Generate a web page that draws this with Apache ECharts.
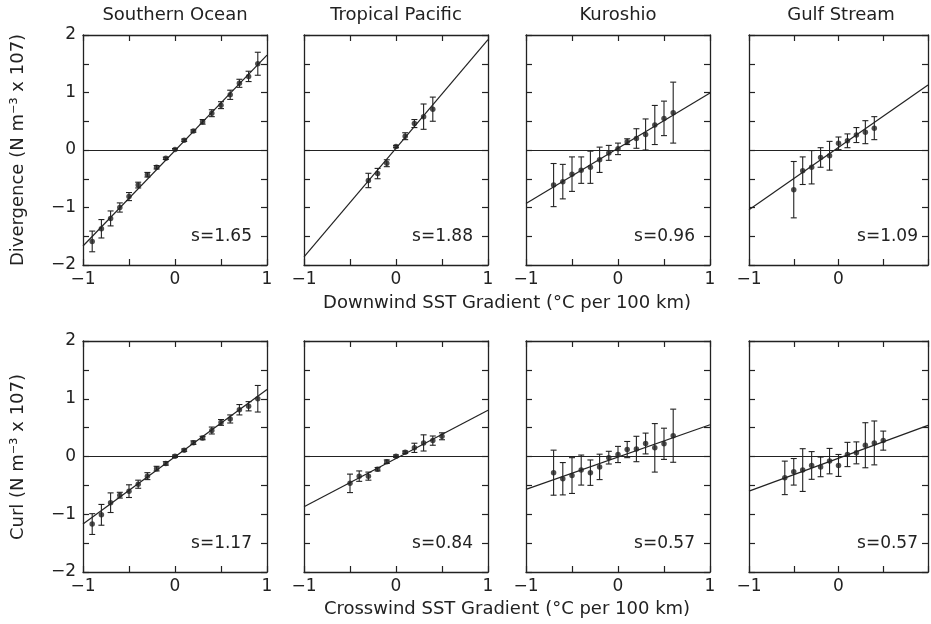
<!DOCTYPE html>
<html><head><meta charset="utf-8">
<script src="https://cdn.jsdelivr.net/npm/echarts@6/dist/echarts.min.js"></script>
<style>html,body{margin:0;padding:0;background:#fff;overflow:hidden}#c{width:931px;height:624px}</style>
</head><body><div id="c"></div>
<script>
// ---- labels ----
const regions = ['Southern Ocean', 'Tropical Pacific', 'Kuroshio', 'Gulf Stream'];
const divSlopes = ['s=1.65', 's=1.88', 's=0.96', 's=1.09'];
const curlSlopes = ['s=1.17', 's=0.84', 's=0.57', 's=0.57'];
const xTitleTop = 'Downwind SST Gradient (°C per 100 km)';
const xTitleBottom = 'Crosswind SST Gradient (°C per 100 km)';
const yTitleTop = 'Divergence (N m⁻³ x 107)';
const yTitleBottom = 'Curl (N m⁻³ x 107)';
const xTicks = [-1, 0, 1];
const yTicks = [-2, -1, 0, 1, 2];

// ---- Divergence vs downwind gradient ----
const soDivX = [-0.9,-0.8,-0.7,-0.6,-0.5,-0.4,-0.3,-0.2,-0.1,0.0,0.1,0.2,0.3,0.4,0.5,0.6,0.7,0.8,0.9];
const soDivY = [-1.59,-1.37,-1.19,-1.00,-0.81,-0.61,-0.43,-0.30,-0.145,0.01,0.17,0.33,0.49,0.64,0.78,0.96,1.16,1.28,1.50];
const soDivE = [0.18,0.16,0.13,0.08,0.07,0.05,0.04,0.03,0.02,0.015,0.02,0.02,0.04,0.06,0.06,0.08,0.07,0.09,0.2];
const tpDivX = [-0.3,-0.2,-0.1,0.0,0.1,0.2,0.3,0.4];
const tpDivY = [-0.53,-0.41,-0.23,0.06,0.24,0.46,0.58,0.71];
const tpDivE = [0.125,0.09,0.06,0.02,0.06,0.07,0.22,0.21];
const kuDivX = [-0.7,-0.6,-0.5,-0.4,-0.3,-0.2,-0.1,0.0,0.1,0.2,0.3,0.4,0.5,0.6];
const kuDivY = [-0.61,-0.55,-0.42,-0.35,-0.30,-0.17,-0.05,0.02,0.145,0.20,0.27,0.435,0.55,0.65];
const kuDivE = [0.375,0.30,0.30,0.23,0.28,0.22,0.13,0.10,0.05,0.17,0.27,0.34,0.30,0.53];
const gsDivX = [-0.5,-0.4,-0.3,-0.2,-0.1,0.0,0.1,0.2,0.3,0.4];
const gsDivY = [-0.69,-0.36,-0.30,-0.13,-0.10,0.116,0.16,0.26,0.31,0.38];
const gsDivE = [0.49,0.24,0.29,0.17,0.25,0.11,0.12,0.13,0.20,0.20];
// fitted line value at x=-1 and x=1
const divFitLeft = [-1.67, -1.86, -0.93, -1.04];
const divFitRight = [1.65, 1.92, 0.99, 1.13];

// ---- Curl vs crosswind gradient ----
const soCurlX = [-0.9,-0.8,-0.7,-0.6,-0.5,-0.4,-0.3,-0.2,-0.1,0.0,0.1,0.2,0.3,0.4,0.5,0.6,0.7,0.8,0.9];
const soCurlY = [-1.17,-1.01,-0.80,-0.67,-0.60,-0.48,-0.34,-0.21,-0.12,0.005,0.11,0.24,0.32,0.45,0.59,0.65,0.81,0.87,1.00];
const soCurlE = [0.18,0.18,0.17,0.05,0.11,0.07,0.06,0.04,0.03,0.02,0.02,0.03,0.03,0.06,0.05,0.07,0.09,0.08,0.23];
const tpCurlX = [-0.5,-0.4,-0.3,-0.2,-0.1,0.0,0.1,0.2,0.3,0.4,0.5];
const tpCurlY = [-0.465,-0.34,-0.34,-0.22,-0.09,0.006,0.075,0.15,0.235,0.275,0.35];
const tpCurlE = [0.16,0.09,0.07,0.03,0.03,0.02,0.02,0.08,0.14,0.08,0.06];
const kuCurlX = [-0.7,-0.6,-0.5,-0.4,-0.3,-0.2,-0.1,0.0,0.1,0.2,0.3,0.4,0.5,0.6];
const kuCurlY = [-0.28,-0.385,-0.33,-0.235,-0.28,-0.18,-0.02,0.035,0.12,0.13,0.225,0.15,0.22,0.36];
const kuCurlE = [0.39,0.28,0.31,0.26,0.22,0.22,0.11,0.14,0.14,0.22,0.18,0.42,0.27,0.46];
const gsCurlX = [-0.6,-0.5,-0.4,-0.3,-0.2,-0.1,0.0,0.1,0.2,0.3,0.4,0.5];
const gsCurlY = [-0.37,-0.265,-0.235,-0.155,-0.18,-0.08,-0.155,0.035,0.063,0.195,0.235,0.275];
const gsCurlE = [0.29,0.23,0.37,0.24,0.17,0.22,0.19,0.21,0.19,0.39,0.38,0.165];
const curlFitLeft = [-1.17, -0.87, -0.57, -0.60];
const curlFitRight = [1.16, 0.80, 0.55, 0.54];

// ---- build ----
const FONT = 'DejaVu Sans';
const INK = '#222';
const colLeft = [83, 304, 526, 749];
const colWidth = [184, 184, 184, 184];
const rowTop = [35, 341];
const rowHeight = [230, 231];

const panels = [
  [soDivX, soDivY, soDivE], [tpDivX, tpDivY, tpDivE], [kuDivX, kuDivY, kuDivE], [gsDivX, gsDivY, gsDivE],
  [soCurlX, soCurlY, soCurlE], [tpCurlX, tpCurlY, tpCurlE], [kuCurlX, kuCurlY, kuCurlE], [gsCurlX, gsCurlY, gsCurlE]
];
const fitLeft = divFitLeft.concat(curlFitLeft);
const fitRight = divFitRight.concat(curlFitRight);
const slopes = divSlopes.concat(curlSlopes);

function fmt(v) { return String(v).replace('-', '\u2212'); }

function renderErr(params, api) {
  const x = api.value(0), y = api.value(1), e = api.value(2);
  const t = api.coord([x, y + e]), b = api.coord([x, y - e]);
  const w = 3;
  const style = { stroke: INK, lineWidth: 1.1 };
  return { type: 'group', children: [
    { type: 'line', shape: { x1: t[0], y1: t[1], x2: b[0], y2: b[1] }, style },
    { type: 'line', shape: { x1: t[0] - w, y1: t[1], x2: t[0] + w, y2: t[1] }, style },
    { type: 'line', shape: { x1: b[0] - w, y1: b[1], x2: b[0] + w, y2: b[1] }, style }
  ]};
}

const grid = [], xAxis = [], yAxis = [], series = [], graphic = [];
const axLine = { show: true, onZero: false, lineStyle: { color: INK, width: 1.3 } };
const axTick = { show: true, inside: true, length: 6, lineStyle: { color: INK, width: 1.2 } };

for (let p = 0; p < 8; p++) {
  const r = Math.floor(p / 4), c = p % 4;
  grid.push({ left: colLeft[c], top: rowTop[r], width: colWidth[c], height: rowHeight[r], containLabel: false });
  const xBase = { type: 'value', gridIndex: p, min: -1, max: 1, interval: 0.5, splitLine: { show: false }, axisLine: axLine, axisTick: axTick };
  const shownX = c === 3 ? [-1, 0] : xTicks; // the last panel's right edge runs off the picture
  xAxis.push(Object.assign({}, xBase, { position: 'bottom', axisLabel: {
    show: true, margin: 6, color: INK, fontFamily: FONT, fontSize: 17, showMinLabel: true, showMaxLabel: true,
    formatter: v => shownX.indexOf(v) >= 0 ? fmt(v) : '' } }));
  xAxis.push(Object.assign({}, xBase, { position: 'top', axisLabel: { show: false } }));
  const yBase = { type: 'value', gridIndex: p, min: -2, max: 2, interval: 0.5, splitLine: { show: false }, axisLine: axLine, axisTick: axTick };
  yAxis.push(Object.assign({}, yBase, { position: 'left', axisLabel: {
    show: c === 0, margin: 7, color: INK, fontFamily: FONT, fontSize: 17, showMinLabel: true, showMaxLabel: true,
    formatter: v => yTicks.indexOf(v) >= 0 ? fmt(v) : '' } }));
  yAxis.push(Object.assign({}, yBase, { position: 'right', axisLabel: { show: false } }));

  const [xs, ys, es] = panels[p];
  const triples = xs.map((x, i) => [x, ys[i], es[i]]);
  series.push({ type: 'line', xAxisIndex: 2 * p, yAxisIndex: 2 * p, data: [[-1, fitLeft[p]], [1, fitRight[p]]],
    symbol: 'none', lineStyle: { color: INK, width: 1.2 }, silent: true, animation: false,
    markLine: { silent: true, symbol: 'none', label: { show: false }, lineStyle: { color: INK, width: 1.2, type: 'solid' }, data: [{ yAxis: 0 }], animation: false } });
  series.push({ type: 'custom', xAxisIndex: 2 * p, yAxisIndex: 2 * p, data: triples, renderItem: renderErr, animation: false, silent: true });
  series.push({ type: 'scatter', xAxisIndex: 2 * p, yAxisIndex: 2 * p, data: triples.map(t => [t[0], t[1]]),
    symbol: 'circle', symbolSize: 5.5, itemStyle: { color: INK }, animation: false, silent: true });

  graphic.push({ type: 'text', x: colLeft[c] + Math.min(colWidth[c], 183) - 14, y: rowTop[r] + rowHeight[r] - 28,
    style: { text: slopes[p], fill: INK, font: '17px "' + FONT + '"', textAlign: 'right', textVerticalAlign: 'middle' } });
}
for (let c = 0; c < 4; c++) {
  graphic.push({ type: 'text', x: colLeft[c] + colWidth[c] / 2, y: 15,
    style: { text: regions[c], fill: INK, font: '18px "' + FONT + '"', textAlign: 'center', textVerticalAlign: 'middle' } });
}
graphic.push({ type: 'text', x: 507, y: 303, style: { text: xTitleTop, fill: INK, font: '18px "' + FONT + '"', textAlign: 'center', textVerticalAlign: 'middle' } });
graphic.push({ type: 'text', x: 507, y: 609, style: { text: xTitleBottom, fill: INK, font: '18px "' + FONT + '"', textAlign: 'center', textVerticalAlign: 'middle' } });
graphic.push({ type: 'text', x: 18, y: 150, rotation: Math.PI / 2, style: { text: yTitleTop, fill: INK, font: '18px "' + FONT + '"', textAlign: 'center', textVerticalAlign: 'middle' } });
graphic.push({ type: 'text', x: 18, y: 457, rotation: Math.PI / 2, style: { text: yTitleBottom, fill: INK, font: '18px "' + FONT + '"', textAlign: 'center', textVerticalAlign: 'middle' } });

const chart = echarts.init(document.getElementById('c'), null, { renderer: 'canvas' });
chart.setOption({ backgroundColor: '#fff', animation: false, grid, xAxis, yAxis, series, graphic });
</script>
</body></html>
